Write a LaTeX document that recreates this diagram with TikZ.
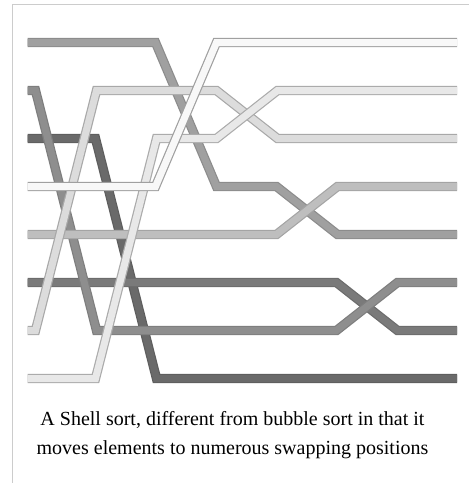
\documentclass[tikz,border=0pt]{standalone}
\usepackage{fontspec}
\setmainfont{Liberation Serif}
\definecolor{framecol}{HTML}{CCCCCC}
\definecolor{cA}{HTML}{A0A0A0}\definecolor{bA}{HTML}{8C8C8C}
\definecolor{cB}{HTML}{8E8E8E}\definecolor{bB}{HTML}{7E7E7E}
\definecolor{cC}{HTML}{6A6A6A}\definecolor{bC}{HTML}{5E5E5E}
\definecolor{cD}{HTML}{F8F8F8}\definecolor{bD}{HTML}{A0A0A0}
\definecolor{cE}{HTML}{BEBEBE}\definecolor{bE}{HTML}{A4A4A4}
\definecolor{cF}{HTML}{7A7A7A}\definecolor{bF}{HTML}{6C6C6C}
\definecolor{cG}{HTML}{DCDCDC}\definecolor{bG}{HTML}{A8A8A8}
\definecolor{cH}{HTML}{E8E8E8}\definecolor{bH}{HTML}{ABABAB}
\begin{document}
\begin{tikzpicture}[x=1pt,y=-1pt,
  bar/.style n args={2}{draw=#2, double=#1, line width=1.2pt, double distance=7pt, line join=miter, line cap=butt},
  captxt/.style={font=\fontsize{20}{24}\selectfont, anchor=base, inner sep=0pt}]
\useasboundingbox (0,0) rectangle (469,483);
\draw[framecol, line width=1pt] (12.7,483) -- (12.7,4.3) -- (469,4.3);
% darkest first, lightest on top
\draw[bar={cC}{bC}] (27.5,138.5) -- (95.5,138.5) -- (156.5,378.5) -- (457,378.5);
\draw[bar={cF}{bF}] (27.5,282.5) -- (336.5,282.5) -- (397.5,330.5) -- (457,330.5);
\draw[bar={cB}{bB}] (27.5,90.5) -- (35.5,90.5) -- (96.5,330.5) -- (336.5,330.5) -- (397.5,282.5) -- (457,282.5);
\draw[bar={cA}{bA}] (27.5,42.5) -- (155.5,42.5) -- (216.5,186.5) -- (276.5,186.5) -- (337.5,234.5) -- (457,234.5);
\draw[bar={cE}{bE}] (27.5,234.5) -- (276.5,234.5) -- (337.5,186.5) -- (457,186.5);
\draw[bar={cG}{bG}] (27.5,330.5) -- (35.5,330.5) -- (96.5,90.5) -- (216.5,90.5) -- (277.5,138.5) -- (457,138.5);
\draw[bar={cH}{bH}] (27.5,378.5) -- (95.5,378.5) -- (156.5,138.5) -- (216.5,138.5) -- (277.5,90.5) -- (457,90.5);
\draw[bar={cD}{bD}] (27.5,186.5) -- (155.5,186.5) -- (216.5,42.5) -- (457,42.5);
\node[captxt] (cap1) at (232.5,425) {A Shell sort, different from bubble sort in that it};
\node[captxt] (cap2) at (232.5,454) {moves elements to numerous swapping positions};
\end{tikzpicture}
\end{document}
